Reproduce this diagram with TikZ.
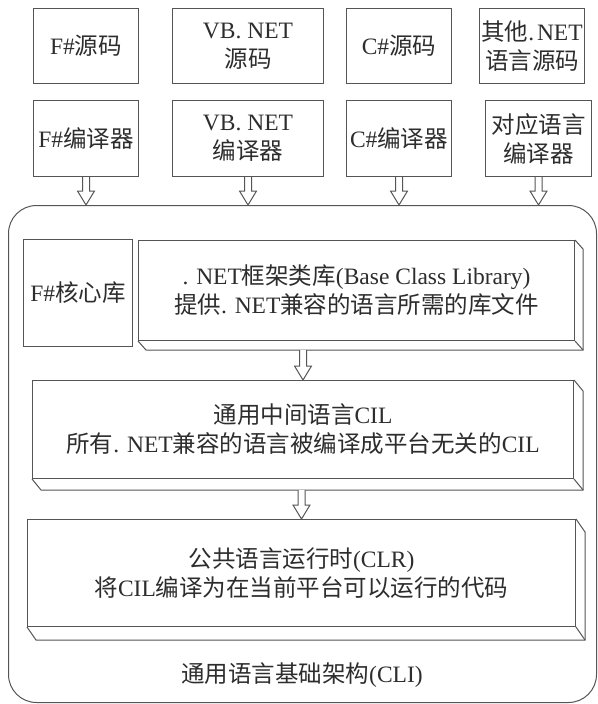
\documentclass[tikz,border=0pt]{standalone}
\usepackage{fontspec}
\setmainfont{Liberation Serif}
\newfontfamily\cjk{Noto Sans CJK SC}
\usetikzlibrary{calc}
\newcommand\zh[1]{{\cjk #1}}
\definecolor{linecol}{RGB}{85,85,85}
\definecolor{txtcol}{RGB}{45,45,45}
\tikzset{
 box/.style={draw=linecol, line width=1pt, anchor=north west, inner sep=0pt, align=center, text=txtcol, font=\fontsize{23.5}{29}\selectfont},
 plainlabel/.style={inner sep=0pt, align=center, text=txtcol, font=\fontsize{23.5}{29}\selectfont},
 harrow/.style={draw=linecol, line width=1pt, fill=white, line join=miter},
 slab/.style={draw=linecol, line width=1pt, line join=miter},
}
\newcommand\hollowdown[2]{%
 \draw[harrow] let \p1=(#1), \p2=(#2) in
 (\x1-3.5pt,\y1) -- (\x1-3.5pt,\y2+14pt) -- (\x1-8.5pt,\y2+14pt) -- (\x1,\y2) --
 (\x1+8.5pt,\y2+14pt) -- (\x1+3.5pt,\y2+14pt) -- (\x1+3.5pt,\y1);}
\newcommand\slabdepth[3]{%
 \draw[slab] (#1.north east) -- ++(#2,#3) -- ($(#1.south east)+(#2,#3)$) -- ($(#1.south west)+(#2,#3)$) -- (#1.south west);
 \draw[slab] (#1.south east) -- ++(#2,#3);}
\begin{document}
\begin{tikzpicture}[x=1pt,y=-1pt]
\useasboundingbox[fill=white] (0,0) rectangle (597,704);
% outer CLI container
\node[box, rounded corners=28pt, minimum width=588pt, minimum height=497pt] (cli) at (8,205) {};
\node[plainlabel] (clilabel) at (302,675) {\zh{通用语言基础架构}(CLI)};
% top row: sources
\node[box, minimum width=105pt, minimum height=75pt] (fsrc) at (33,8) {F\#\zh{源码}};
\node[box, minimum width=151pt, minimum height=75pt] (vbsrc) at (172,8) {VB. NET\\\zh{源码}};
\node[box, minimum width=105pt, minimum height=75pt] (cssrc) at (346,8) {C\#\zh{源码}};
\node[box, minimum width=105pt, minimum height=75pt] (othsrc) at (479,8) {\zh{其他}.\hspace{0.12em}NET\\\zh{语言源码}};
% second row: compilers
\node[box, minimum width=105pt, minimum height=76pt] (fscomp) at (33,100) {F\#\zh{编译器}};
\node[box, minimum width=151pt, minimum height=76pt] (vbcomp) at (172,100) {VB. NET\\\zh{编译器}};
\node[box, minimum width=105pt, minimum height=76pt] (cscomp) at (346,100) {C\#\zh{编译器}};
\node[box, minimum width=106pt, minimum height=76pt] (othcomp) at (485,100) {\zh{对应语言}\\\zh{编译器}};
% arrows into CLI
\hollowdown{fscomp.south}{fscomp.south |- cli.north}
\hollowdown{vbcomp.south}{vbcomp.south |- cli.north}
\hollowdown{cscomp.south}{cscomp.south |- cli.north}
\hollowdown{othcomp.south}{othcomp.south |- cli.north}
% inner boxes
\node[box, minimum width=109pt, minimum height=107pt] (fscore) at (23,239) {F\#\zh{核心库}};
\node[box, minimum width=436pt, minimum height=100pt] (bcl) at (138,240) {. NET\zh{框架类库}(Base Class Library)\\\zh{提供}. NET\zh{兼容的语言所需的库文件}};
\slabdepth{bcl}{8}{9}
\node[box, minimum width=541pt, minimum height=98pt] (cil) at (32,380) {\zh{通用中间语言}CIL\\\zh{所有}. NET\zh{兼容的语言被编译成平台无关的}CIL};
\slabdepth{cil}{9}{11}
\node[box, minimum width=548pt, minimum height=107pt] (clr) at (27,519) {\zh{公共语言运行时}(CLR)\\\zh{将}CIL\zh{编译为在当前平台可以运行的代码}};
\slabdepth{clr}{9}{13}
\coordinate (bclb) at ($(bcl.south)+(0,9)$);
\coordinate (cilb) at ($(cil.south)+(0,11)$);
\hollowdown{cil.north |- bclb}{cil.north}
\hollowdown{clr.north |- cilb}{clr.north}
\end{tikzpicture}
\end{document}
